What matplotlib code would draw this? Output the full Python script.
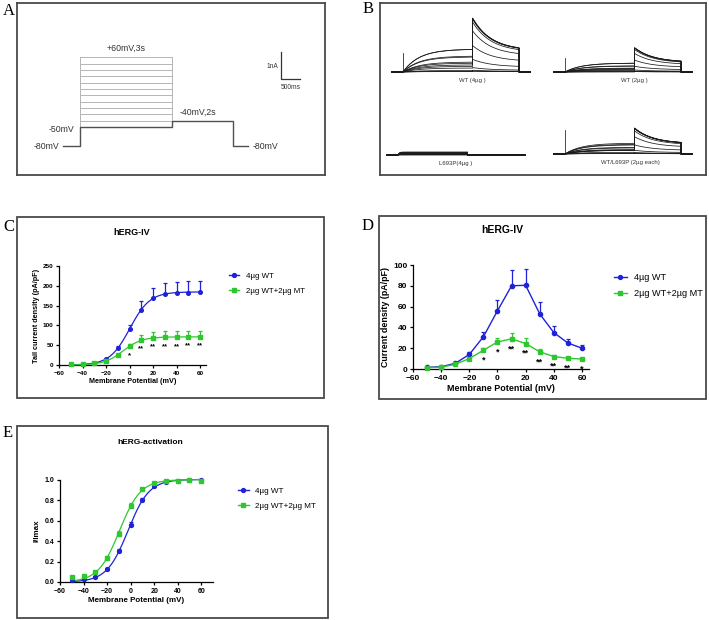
import numpy as np
import matplotlib
matplotlib.use('Agg')
import matplotlib.pyplot as plt
import matplotlib.patches as patches
from matplotlib.lines import Line2D

# ---------------------------------------------------------------- data
volt = [-50, -40, -30, -20, -10, 0, 10, 20, 30, 40, 50, 60]

# C - tail current density (pA/pF)
tail_wt = [3, 3, 6, 15, 43, 90, 140, 170, 180, 182, 183, 184]
tail_wt_err = [1, 1, 2, 3, 5, 12, 21, 25, 27, 27, 28, 28]
tail_mt = [2, 2, 4, 10, 25, 47, 63, 69, 70, 70, 71, 71]
tail_mt_err = [1, 1, 1, 2, 3, 7, 12, 15, 15, 15, 15, 16]
tail_star_x = [0, 10, 20, 30, 40, 50, 60]
tail_star = ['*', '**', '**', '**', '**', '**', '**']

# D - current density (pA/pF)
cd_wt = [1.6, 2.2, 5.4, 14, 31, 56, 80, 80.5, 53, 35, 25, 20]
cd_wt_err = [0.5, 0.5, 1, 2.5, 5, 10, 15, 16, 11, 6, 4, 3]
cd_mt = [1.2, 1.8, 4.5, 10, 18, 26, 29, 24.5, 16.5, 12, 10.3, 9.6]
cd_mt_err = [0.3, 0.4, 0.5, 1, 2, 4, 6, 5.5, 3, 1.5, 1, 1]
cd_star_x = [-10, 0, 10, 20, 30, 40, 50, 60]
cd_star = ['*', '*', '**', '**', '**', '**', '**', '*']

# E - activation I/Imax
act_wt = [0.02, 0.025, 0.05, 0.125, 0.30, 0.56, 0.805, 0.94, 0.98, 0.99, 1.0, 1.0]
act_wt_err = [0.01, 0.01, 0.01, 0.01, 0.025, 0.03, 0.02, 0.01, 0.005, 0.005, 0.004, 0.004]
act_mt = [0.045, 0.055, 0.10, 0.235, 0.47, 0.75, 0.915, 0.975, 0.99, 0.995, 0.997, 0.995]
act_mt_err = [0.01, 0.01, 0.01, 0.02, 0.03, 0.025, 0.01, 0.01, 0.005, 0.005, 0.004, 0.004]

labels = ['4\u00b5g WT', '2\u00b5g WT+2\u00b5g MT']

# A - voltage protocol
hold_mv = -80
step_mv = [-50, -40, -30, -20, -10, 0, 10, 20, 30, 40, 50, 60]
tail_mv = -40
pre_s, step_s, tail_s, post_s = 0.55, 3.0, 2.0, 0.5

# B - current traces: peak amplitudes (nA) read from the recordings
trace_sets = [
    # name, tail peak, step plateau, capacitive spike, tail source, step source
    ('WT (4\u00b5g )', 2.0, 0.85, 0.70, tail_wt, cd_wt),
    ('WT (2\u00b5g )', 0.90, 0.33, 0.52, tail_wt, cd_wt),
    ('L693P(4\u00b5g )', 0.0, 0.11, 0.0, tail_mt, cd_mt),
    ('WT/L693P (2\u00b5g each)', 0.96, 0.40, 0.90, tail_mt, cd_mt),
]

blue = '#1f22d6'
green = '#2ec82e'
frame_c = '#4a4a4a'
W, H = 709, 620


def rect(x0, y0, x1, y1):
    return [x0 / W, 1 - y1 / H, (x1 - x0) / W, (y1 - y0) / H]


def boltz_fit(x, y):
    x = np.asarray(x, float)
    y = np.asarray(y, float)
    best = (np.inf, 1, 0, 1)
    for vh in np.arange(-40, 20.01, 0.25):
        for k in np.arange(2, 20.01, 0.25):
            b = 1 / (1 + np.exp((vh - x) / k))
            a = b @ y / (b @ b)
            r = ((y - a * b) ** 2).sum()
            if r < best[0]:
                best = (r, a, vh, k)
    return best[1:]


def prism_axes(ax, tick_fs, lab_fs):
    for s in ['top', 'right']:
        ax.spines[s].set_visible(False)
    for s in ['left', 'bottom']:
        ax.spines[s].set_linewidth(0.9)
    ax.tick_params(direction='out', length=2.5, width=0.9, labelsize=tick_fs, pad=1.5)
    for t in ax.get_xticklabels() + ax.get_yticklabels():
        t.set_fontweight('bold')
    ax.xaxis.label.set_size(lab_fs)
    ax.yaxis.label.set_size(lab_fs)


def plot_series(ax, y, err, color, marker, ms, line=None):
    ax.errorbar(volt, y, yerr=[np.zeros(len(err)), err], fmt='none', ecolor=color,
                elinewidth=0.9, capsize=1.5, capthick=0.9, clip_on=False, zorder=3)
    if line is None:
        ax.plot(volt, y, color=color, lw=1.0, marker=marker, ms=ms, clip_on=False, zorder=4)
    else:
        ax.plot(volt, y, color=color, lw=0, marker=marker, ms=ms, clip_on=False, zorder=4)
        ax.plot(line[0], line[1], color=color, lw=0.9, clip_on=False, zorder=3)


def add_legend(ax, x, y, fs, hl, spacing):
    h = [Line2D([], [], color=blue, marker='o', ms=2.8, lw=1.0),
         Line2D([], [], color=green, marker='s', ms=2.8, lw=1.0)]
    ax.legend(h, labels, loc='upper left', bbox_to_anchor=(x / W, 1 - y / H),
              bbox_transform=fig.transFigure, frameon=False,
              handlelength=hl, handletextpad=0.8, borderpad=0, borderaxespad=0,
              labelspacing=spacing, prop={'family': 'Liberation Sans', 'size': fs})


def panel_title(x, y, s, fs):
    fig.text(x / W, 1 - y / H, s, ha='center', va='center', fontsize=fs, fontweight='bold')


plt.rcParams['font.family'] = ['Liberation Sans', 'DejaVu Sans']
fig = plt.figure(figsize=(7.09, 6.20), dpi=100)

letter_kw = dict(fontsize=12, family=['Liberation Serif', 'DejaVu Serif'], ha='center', va='center')
fig.text(9 / W, 1 - 11 / H, 'A', **letter_kw)
fig.text(368 / W, 1 - 9 / H, 'B', **letter_kw)
fig.text(9 / W, 1 - 227 / H, 'C', **letter_kw)
fig.text(368 / W, 1 - 226 / H, 'D', **letter_kw)
fig.text(8 / W, 1 - 433 / H, 'E', **letter_kw)

# ---------------------------------------------------------------- A
ax = fig.add_axes(rect(17, 3, 325, 175))
ax.set_xlim(-2.06, 8.0)
ax.set_ylim(-125.8, 146)
ax.set_xticks([])
ax.set_yticks([])
for s in ax.spines.values():
    s.set_color(frame_c)
    s.set_linewidth(1.3)
t_on, t_off, t_end = 0.0, step_s, step_s + tail_s
for v in step_mv[1:]:
    ax.plot([t_on, t_off], [v, v], color='#b5b5b5', lw=0.7)
ax.plot([t_on, t_on], [step_mv[0], step_mv[-1]], color='#b5b5b5', lw=0.7)
ax.plot([t_off, t_off], [tail_mv, step_mv[-1]], color='#b5b5b5', lw=0.7)
ax.plot([-pre_s, t_on, t_on, t_off, t_off, t_end, t_end, t_end + post_s],
        [hold_mv, hold_mv, step_mv[0], step_mv[0], tail_mv, tail_mv, hold_mv, hold_mv],
        color='#505050', lw=1.0)
nar = dict(family=['Liberation Sans Narrow', 'DejaVu Sans Condensed', 'Liberation Sans'],
           fontsize=6.3, color='#333333')
ax.text(t_off / 2, step_mv[-1] + 8, '+%dmV,%ds' % (step_mv[-1], step_s), ha='center', va='bottom', **nar)
ax.text(-0.2, step_mv[0] - 4, '%dmV' % step_mv[0], ha='right', va='center', **nar)
ax.text(-pre_s - 0.12, hold_mv, '%dmV' % hold_mv, ha='right', va='center', **nar)
ax.text(t_off + 0.85, tail_mv + 6, '%dmV,%ds' % (tail_mv, tail_s), ha='center', va='bottom', **nar)
ax.text(t_end + post_s + 0.12, hold_mv, '%dmV' % hold_mv, ha='left', va='center', **nar)
# scale bar (1 nA / 500 ms)
sb_x, sb_y, sb_h, sb_w = 6.57, 26, 43, 0.62
ax.plot([sb_x, sb_x, sb_x + sb_w], [sb_y + sb_h, sb_y, sb_y], color='#333333', lw=0.9)
small = dict(nar)
small['fontsize'] = 4.8
ax.text(sb_x - 0.08, sb_y + sb_h * 0.45, '1nA', ha='right', va='center', **small)
ax.text(sb_x + sb_w / 2, sb_y - 8, '500ms', ha='center', va='top', **small)

# ---------------------------------------------------------------- B
axb = fig.add_axes(rect(380, 3, 706, 175))
axb.set_xticks([])
axb.set_yticks([])
for s in axb.spines.values():
    s.set_color(frame_c)
    s.set_linewidth(1.3)

px_s, px_na = 23.2, 27.0
origins = [(403, 72), (565, 72), (398, 155), (565, 154)]
label_t = [3.0, 3.0, 2.5, 2.8]
t_lo, t_hi, i_lo, i_hi = -0.5, 5.5, -0.3, 2.2
t_step = np.linspace(0, step_s, 120)
t_tail = np.linspace(step_s, step_s + tail_s, 80)
for (name, tpk, spk, cap, tsrc, ssrc), (x0, y0), lt in zip(trace_sets, origins, label_t):
    ia = fig.add_axes(rect(x0 + t_lo * px_s, y0 - i_hi * px_na, x0 + t_hi * px_s, y0 - i_lo * px_na))
    ia.set_xlim(t_lo, t_hi)
    ia.set_ylim(i_lo, i_hi)
    ia.axis('off')
    tails = np.asarray(tsrc, float) / max(tsrc) * tpk
    steps = np.asarray(ssrc, float) / max(ssrc) * spk
    tau_a = 0.05 if tpk == 0 else 0.7
    for a, b in zip(steps, tails):
        i_s = a * (1 - np.exp(-t_step / tau_a))
        i_t = b * (0.4 + 0.6 * np.exp(-(t_tail - step_s) / 0.8))
        tt = np.concatenate([[t_lo, 0], t_step, t_tail, [step_s + tail_s, t_hi]])
        ii = np.concatenate([[0, 0], i_s, i_t, [0, 0]])
        ia.plot(tt, ii, color='#1a1a1a', lw=0.55, clip_on=False)
    if cap > 0:
        ia.plot([0, 0], [0, cap], color='#1a1a1a', lw=0.55, clip_on=False)
        ia.plot([step_s + tail_s] * 2, [0, tails.max() * 0.45], color='#1a1a1a', lw=0.55, clip_on=False)
    ia.text(lt, -0.32, name, ha='center', va='center', fontsize=4.3, color='#333333')

# ---------------------------------------------------------------- C
fig.add_artist(patches.Rectangle((17 / W, 1 - 398 / H), 307 / W, 181 / H, transform=fig.transFigure,
                                 fill=False, edgecolor=frame_c, lw=1.3))
axc = fig.add_axes(rect(59, 266, 206, 365))
fx = np.linspace(volt[0], volt[-1], 200)
a, vh, k = boltz_fit(volt, tail_wt)
plot_series(axc, tail_wt, tail_wt_err, blue, 'o', 2.6, (fx, a / (1 + np.exp((vh - fx) / k))))
a, vh, k = boltz_fit(volt, tail_mt)
plot_series(axc, tail_mt, tail_mt_err, green, 's', 2.6, (fx, a / (1 + np.exp((vh - fx) / k))))
for xs, s in zip(tail_star_x, tail_star):
    axc.annotate(s, (xs, tail_mt[volt.index(xs)]), xytext=(0, -6.5), textcoords='offset points',
                 ha='center', va='center', fontsize=5.5, fontweight='bold')
axc.set_xlim(-60, 65)
axc.set_ylim(0, 250)
axc.set_xticks(range(-60, 61, 20))
axc.set_yticks(range(0, 251, 50))
axc.set_xlabel('Membrane Potential (mV)', fontweight='bold', labelpad=2)
axc.set_ylabel('Tail current density (pA/pF)', fontweight='bold', labelpad=2)
prism_axes(axc, 4.6, 5.2)
panel_title(132, 232, 'hERG-IV', 6.5)
add_legend(axc, 229, 272, 5.7, 1.3, 1.0)

# ---------------------------------------------------------------- D
fig.add_artist(patches.Rectangle((379 / W, 1 - 399 / H), 327 / W, 183 / H, transform=fig.transFigure,
                                 fill=False, edgecolor=frame_c, lw=1.3))
axd = fig.add_axes(rect(413, 265, 589, 369))
plot_series(axd, cd_wt, cd_wt_err, blue, 'o', 3.0)
plot_series(axd, cd_mt, cd_mt_err, green, 's', 3.0)
for xs, s in zip(cd_star_x, cd_star):
    axd.annotate(s, (xs, cd_mt[volt.index(xs)]), xytext=(0, -7), textcoords='offset points',
                 ha='center', va='center', fontsize=6.5, fontweight='bold')
axd.set_xlim(-60, 65)
axd.set_ylim(0, 100)
axd.set_xticks(range(-60, 61, 20))
axd.set_yticks(range(0, 101, 20))
axd.set_xlabel('Membrane Potential (mV)', fontweight='bold', labelpad=2)
axd.set_ylabel('Current density (pA/pF)', fontweight='bold', labelpad=2)
prism_axes(axd, 6.0, 6.4)
panel_title(502, 230, 'hERG-IV', 7.5)
add_legend(axd, 614, 273, 6.6, 1.4, 0.75)

# ---------------------------------------------------------------- E
fig.add_artist(patches.Rectangle((17 / W, 1 - 618 / H), 311 / W, 192 / H, transform=fig.transFigure,
                                 fill=False, edgecolor=frame_c, lw=1.3))
axe = fig.add_axes(rect(60, 480, 213, 582))
a, vh, k = boltz_fit(volt, act_wt)
plot_series(axe, act_wt, act_wt_err, blue, 'o', 2.8, (fx, a / (1 + np.exp((vh - fx) / k))))
a, vh, k = boltz_fit(volt, act_mt)
plot_series(axe, act_mt, act_mt_err, green, 's', 2.8, (fx, a / (1 + np.exp((vh - fx) / k))))
axe.set_xlim(-60, 70)
axe.set_ylim(0, 1.0)
axe.set_xticks(range(-60, 61, 20))
axe.set_yticks(np.arange(0, 1.01, 0.2))
axe.set_yticklabels(['0.0', '0.2', '0.4', '0.6', '0.8', '1.0'])
axe.set_xlabel('Membrane Potential (mV)', fontweight='bold', labelpad=2)
axe.set_ylabel('I/Imax', fontweight='bold', labelpad=3)
prism_axes(axe, 5.0, 5.8)
panel_title(150, 442, 'hERG-activation', 6.0)
add_legend(axe, 238, 487, 5.9, 1.3, 0.9)

fig.savefig('out.png', dpi=100)
